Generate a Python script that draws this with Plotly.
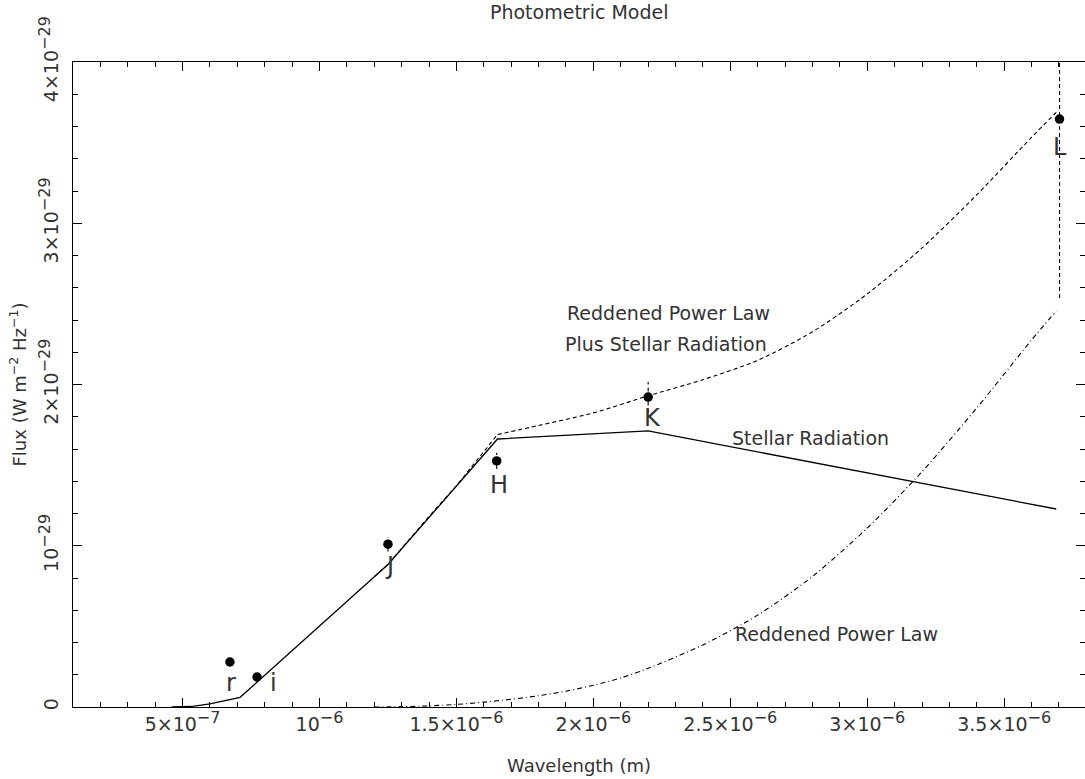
import plotly.graph_objects as go

# Wavelength in micrometres (x 1e-6 m), flux in units of 1e-29 W m^-2 Hz^-1
stellar_wl = [0.46, 0.53, 0.60, 0.66, 0.71, 1.25, 1.65, 2.20, 3.69]
stellar_flux = [0.0, 0.003, 0.02, 0.04, 0.06, 0.884, 1.662, 1.712, 1.228]

pl_wl = [1.20, 1.30, 1.40, 1.50, 1.60, 1.70, 1.80, 1.90, 2.00, 2.10, 2.20,
         2.40, 2.60, 2.80, 3.00, 3.20, 3.40, 3.60, 3.69]
pl_flux = [0.0, 0.002, 0.007, 0.016, 0.03, 0.048, 0.07, 0.098, 0.135, 0.18, 0.24,
           0.385, 0.57, 0.81, 1.11, 1.46, 1.855, 2.276, 2.456]

sum_wl = [1.20, 1.25, 1.40, 1.50, 1.65, 1.80, 2.00, 2.20, 2.40, 2.60, 2.80,
          3.00, 3.20, 3.40, 3.60, 3.69]
sum_flux = [0.808, 0.884, 1.182, 1.372, 1.690, 1.746, 1.824, 1.930, 2.030, 2.150,
            2.327, 2.562, 2.847, 3.177, 3.533, 3.688]

band = ['r', 'i', 'J', 'H', 'K', 'L']
band_wl = [0.673, 0.772, 1.250, 1.647, 2.200, 3.702]
band_flux = [0.279, 0.186, 1.010, 1.526, 1.922, 3.646]
band_err = [0.0, 0.0, 0.045, 0.05, 0.095, 1.11]

def sci(mant, exp):
    sup = '<sup><span style="font-size:16px">−%d</span></sup>' % exp
    return ('%s×10' % mant if mant else '10') + sup

x_tickvals = [0.5, 1.0, 1.5, 2.0, 2.5, 3.0, 3.5]
x_ticktext = [sci('5', 7), sci('', 6), sci('1.5', 6), sci('2', 6),
              sci('2.5', 6), sci('3', 6), sci('3.5', 6)]
y_tickvals = [0, 1, 2, 3, 4]
y_ticktext = ['0', sci('', 29), sci('2', 29), sci('3', 29), sci('4', 29)]

FONT = 'DejaVu Sans'
TXT = '#333333'

# pixel offsets of the band letters relative to their points (styling only)
label_offset = {'r': (1, -21), 'i': (16, -6), 'J': (2, -22), 'H': (2, -24),
                'K': (4, -21), 'L': (0, -28)}

fig = go.Figure()

fig.add_trace(go.Scatter(x=stellar_wl, y=stellar_flux, mode='lines',
                         line=dict(color='black', width=1.3), showlegend=False))
fig.add_trace(go.Scatter(x=pl_wl, y=pl_flux, mode='lines',
                         line=dict(color='black', width=1.1, dash='5px,3px,1px,3px',
                                   shape='spline', smoothing=0.8),
                         showlegend=False))
k = sum_wl.index(1.65)
fig.add_trace(go.Scatter(x=sum_wl[:k + 1], y=sum_flux[:k + 1], mode='lines',
                         line=dict(color='black', width=1.1, dash='4px,3px'),
                         showlegend=False))
fig.add_trace(go.Scatter(x=sum_wl[k:], y=sum_flux[k:], mode='lines',
                         line=dict(color='black', width=1.1, dash='4px,3px',
                                   shape='spline', smoothing=0.8),
                         showlegend=False))

# dashed error bars
ex, ey = [], []
for w, f, e in zip(band_wl, band_flux, band_err):
    if e > 0:
        ex += [w, w, None]
        ey += [f - e, f + e, None]
fig.add_trace(go.Scatter(x=ex, y=ey, mode='lines',
                         line=dict(color='black', width=1.1, dash='4px,3px'),
                         showlegend=False))

fig.add_trace(go.Scatter(x=band_wl, y=band_flux, mode='markers',
                         marker=dict(color='black', size=9.5, symbol='circle'),
                         showlegend=False))

for name, w, f in zip(band, band_wl, band_flux):
    dx, dy = label_offset[name]
    fig.add_annotation(x=w, y=f, text=name, showarrow=False,
                       xshift=dx, yshift=dy,
                       font=dict(family=FONT, size=24, color=TXT),
                       xanchor='center', yanchor='middle')

curve_labels = [
    ('Reddened Power Law', 1.896, 2.443),
    ('Plus Stellar Radiation', 1.888, 2.251),
    ('Stellar Radiation', 2.498, 1.668),
    ('Reddened Power Law', 2.509, 0.453),
]
for t, x, y in curve_labels:
    fig.add_annotation(x=x, y=y, text=t, showarrow=False, xanchor='left',
                       yanchor='middle', font=dict(family=FONT, size=19, color=TXT))

# titles
fig.add_annotation(x=0.5, y=1, xref='paper', yref='paper', yshift=50,
                   text='Photometric Model', showarrow=False,
                   xanchor='center', yanchor='middle',
                   font=dict(family=FONT, size=19, color=TXT))
fig.add_annotation(x=0.5, y=0, xref='paper', yref='paper', yshift=-58,
                   text='Wavelength (m)', showarrow=False,
                   xanchor='center', yanchor='middle',
                   font=dict(family=FONT, size=18, color=TXT))
fig.add_annotation(x=0, y=0.5, xref='paper', yref='paper', xshift=-55,
                   text='Flux (W m<sup>−2</sup> Hz<sup>−1</sup>)', showarrow=False,
                   textangle=-90, xanchor='center', yanchor='middle',
                   font=dict(family=FONT, size=18, color=TXT))

axis_common = dict(showline=True, linecolor='black', linewidth=1.2, mirror='ticks',
                   ticks='inside', tickcolor='black', tickwidth=1, ticklen=9,
                   showgrid=False, zeroline=False, automargin=False,
                   tickfont=dict(family=FONT, size=19, color=TXT))

fig.update_xaxes(range=[0.1, 3.795], tickmode='array', tickvals=x_tickvals,
                 ticktext=x_ticktext,
                 minor=dict(dtick=0.1, tick0=0.1, ticks='inside', ticklen=5,
                            tickcolor='black', tickwidth=1, showgrid=False),
                 **axis_common)
fig.update_yaxes(range=[0, 4], tickmode='array', tickvals=y_tickvals,
                 ticktext=y_ticktext, tickangle=-90, ticklabelstandoff=6,
                 minor=dict(dtick=0.2, tick0=0, ticks='inside', ticklen=5,
                            tickcolor='black', tickwidth=1, showgrid=False),
                 **axis_common)

fig.update_layout(
    width=1085, height=779,
    margin=dict(l=73, r=0, t=62, b=72, autoexpand=False),
    paper_bgcolor='white', plot_bgcolor='white',
    showlegend=False,
)

fig.write_html('out.html', config={'displayModeBar': False})

# remove the default page margin so the figure sits at the window's top-left corner
with open('out.html', encoding='utf-8') as fh:
    html = fh.read()
html = html.replace('<body>', '<body style="margin:0;overflow:hidden">', 1)
with open('out.html', 'w', encoding='utf-8') as fh:
    fh.write(html)
